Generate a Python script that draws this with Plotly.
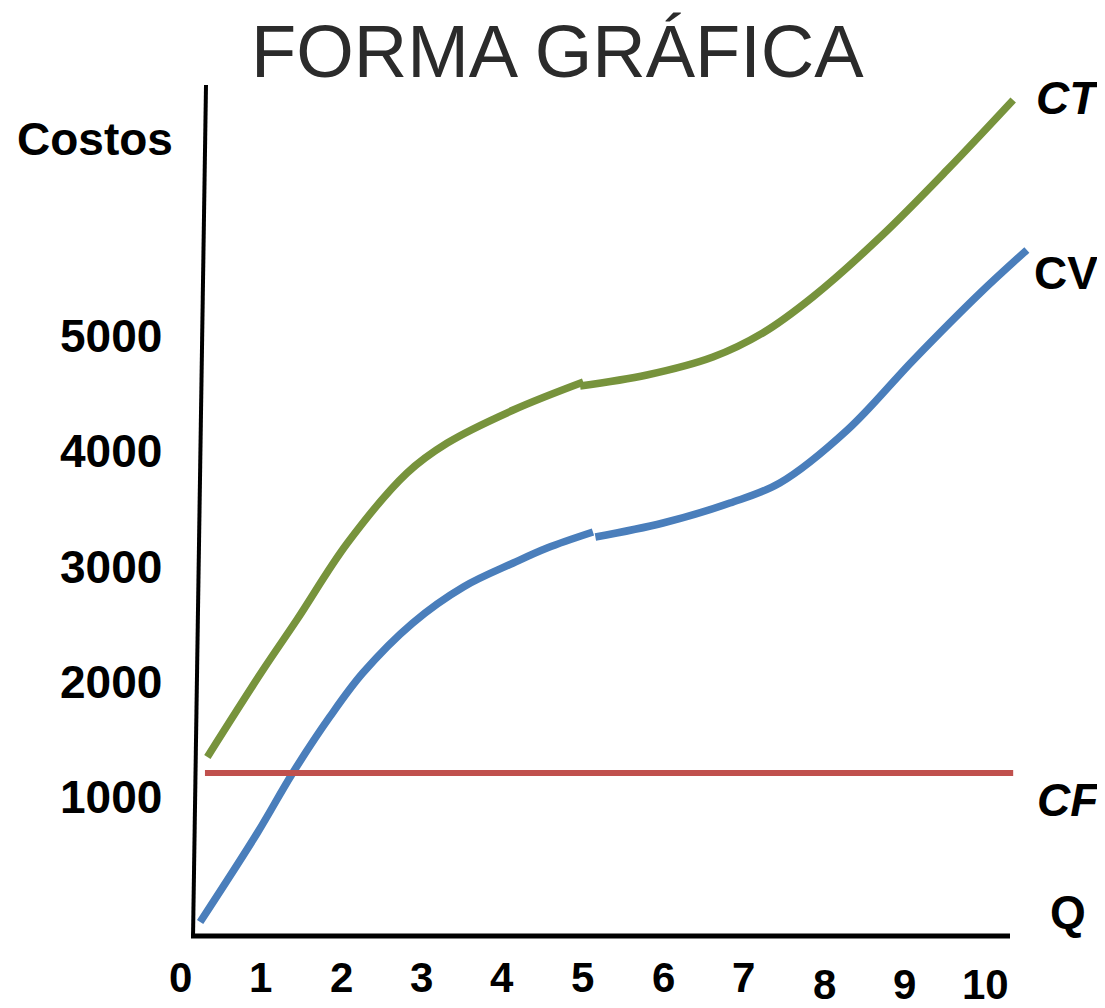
import plotly.graph_objects as go

# Cantidad producida (Q) y costos
q_cv_a = [0.25, 0.96, 1.40, 1.86, 2.27, 2.89, 3.52, 4.14, 4.56, 5.13]
cv_a = [-84, 688, 1209, 1695, 2076, 2510, 2823, 3031, 3161, 3300]
q_cv_b = [5.16, 6.00, 6.83, 7.45, 8.29, 9.11, 9.94, 10.52]
cv_b = [3256, 3378, 3551, 3725, 4185, 4792, 5374, 5747]

q_ct_a = [0.34, 1.03, 1.45, 2.08, 2.82, 3.32, 4.14, 5.01]
ct_a = [1348, 2102, 2536, 3204, 3812, 4072, 4358, 4601]
q_ct_b = [4.97, 5.80, 6.62, 7.24, 7.86, 8.70, 9.53, 10.35]
ct_b = [4567, 4662, 4818, 5027, 5339, 5859, 6441, 7048]

q_cf = [0.31, 10.35]
cf = [1209, 1209]

x_ticks = [0, 1, 2, 3, 4, 5, 6, 7, 8, 9, 10]
y_ticks = [1000, 2000, 3000, 4000, 5000]

# page body adds an 8px margin, so the figure is drawn 8px smaller
OFF = 8
W, H = 1105 - OFF, 1008 - OFF
GREEN = "#77933C"
BLUE = "#4A7EBB"
RED = "#C0504D"
FONT = "Liberation Sans, Arial, sans-serif"


def px(x):
    return (x - OFF) / W


def py(y):
    return 1 - (y - OFF) / H


fig = go.Figure()
for xs, ys, col in [
    (q_ct_a, ct_a, GREEN),
    (q_ct_b, ct_b, GREEN),
    (q_cv_a, cv_a, BLUE),
    (q_cv_b, cv_b, BLUE),
]:
    fig.add_trace(go.Scatter(x=xs, y=ys, mode="lines",
                             line=dict(color=col, width=7.5, shape="spline", smoothing=1.0),
                             hoverinfo="skip", showlegend=False))
fig.add_trace(go.Scatter(x=q_cf, y=cf, mode="lines", line=dict(color=RED, width=6),
                         hoverinfo="skip", showlegend=False))

# hand drawn axes (slightly tilted vertical axis)
fig.add_shape(type="line", xref="paper", yref="paper",
              x0=px(206), y0=py(85), x1=px(193), y1=py(938),
              line=dict(color="black", width=4))
fig.add_shape(type="line", xref="paper", yref="paper",
              x0=px(191), y0=py(936), x1=px(1010), y1=py(936),
              line=dict(color="black", width=5))

# x tick labels (8, 9, 10 sit a bit lower in the original)
for v in x_ticks:
    yy = 984 if v >= 8 else 977
    fig.add_annotation(x=v, y=py(yy), xref="x", yref="paper", text=f"<b>{v}</b>",
                       xanchor="center", yanchor="middle", showarrow=False,
                       font=dict(family=FONT, size=42, color="black"))
for v in y_ticks:
    fig.add_annotation(x=px(164), y=v, xref="paper", yref="y", xanchor="right",
                       yanchor="middle", text=f"<b>{v}</b>", showarrow=False,
                       font=dict(family=FONT, size=46, color="black"))

labels = [
    ("<b>Costos</b>", 95, 139),
    ("<b><i>CT</i></b>", 1068, 98),
    ("<b>CV</b>", 1066, 273),
    ("<b><i>CF</i></b>", 1068, 800),
    ("<b>Q</b>", 1068, 912),
]
for txt, x, y in labels:
    fig.add_annotation(x=px(x), y=py(y), xref="paper", yref="paper", text=txt,
                       xanchor="center", yanchor="middle", showarrow=False,
                       font=dict(family=FONT, size=46, color="black"))

fig.add_annotation(x=px(557), y=1, xref="paper", yref="paper",
                   text="FORMA GRÁFICA", xanchor="center", yanchor="top",
                   showarrow=False, font=dict(family=FONT, size=74, color="#2b2b2b"))

fig.update_xaxes(range=[(OFF - 180) / 80.5, (1105 - 180) / 80.5], visible=False)
fig.update_yaxes(range=[(912.3 - 1008) / 0.11525, (912.3 - OFF) / 0.11525], visible=False)
fig.update_layout(width=W, height=H, margin=dict(l=0, r=0, t=0, b=0),
                  plot_bgcolor="white", paper_bgcolor="white")
fig.write_html("out.html")
